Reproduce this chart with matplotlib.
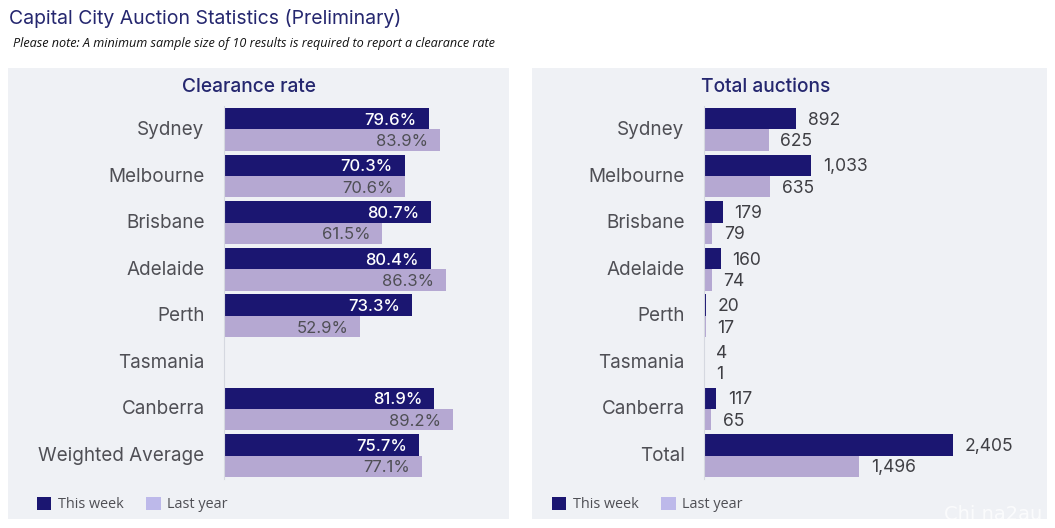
import matplotlib
matplotlib.use("Agg")
import matplotlib.pyplot as plt
from matplotlib.patches import Rectangle, Patch
from matplotlib.transforms import Affine2D

W, H = 1055, 528
cities = ["Sydney", "Melbourne", "Brisbane", "Adelaide", "Perth", "Tasmania", "Canberra", "Weighted Average"]
rate_week = [79.6, 70.3, 80.7, 80.4, 73.3, None, 81.9, 75.7]
rate_year = [83.9, 70.6, 61.5, 86.3, 52.9, None, 89.2, 77.1]
auction_cats = ["Sydney", "Melbourne", "Brisbane", "Adelaide", "Perth", "Tasmania", "Canberra", "Total"]
auction_week = [892, 1033, 179, 160, 20, 4, 117, 2405]
auction_year = [625, 635, 79, 74, 17, 1, 65, 1496]

NAVY = "#1B1671"
LILAC = "#B5A8D2"
LEG_LILAC = "#BDB9EA"
GREY = "#4F4F55"
PANEL = "#EFF1F5"
TITLE = "#25276F"
FONT = "Inter"

fig = plt.figure(figsize=(W / 100, H / 100), dpi=100, facecolor="white")

def frect(x0, y0, x1, y1):
    return [x0 / W, 1 - y1 / H, (x1 - x0) / W, (y1 - y0) / H]

def add_panel(x0, y0, x1, y1, color=PANEL):
    fig.add_artist(Rectangle((x0 / W, 1 - y1 / H), (x1 - x0) / W, (y1 - y0) / H,
                             transform=fig.transFigure, facecolor=color, edgecolor="none", zorder=-5))

def ftext(x, y, s, **kw):
    fig.text(x / W, 1 - y / H, s, **kw)

add_panel(8, 68, 509, 519)
add_panel(532, 68, 1047, 519)

ftext(9, 18.5, "Capital City Auction Statistics (Preliminary)", fontsize=14.0, color=TITLE,
      family=FONT, va="center", ha="left", fontweight="normal")
ftext(13, 43.5, "Please note: A minimum sample size of 10 results is required to report a clearance rate",
      fontsize=9.1, style="italic", color="#111111", family="Open Sans", va="center", ha="left")
ftext(248.5, 87.5, "Clearance rate", fontsize=13.8, color=TITLE, family=FONT, va="center", ha="center", fontweight="medium")
ftext(766, 87.5, "Total auctions", fontsize=13.8, color=TITLE, family=FONT, va="center", ha="center", fontweight="medium")

def make_axes(x0, x1, xmax, cats):
    ax = fig.add_axes(frect(x0 - 1, 106.1, x1 - 1, 478.9), facecolor="none")
    ax.set_ylim(len(cats) - 0.5, -0.5)
    ax.set_xlim(0, xmax)
    for s in ["top", "right", "bottom"]:
        ax.spines[s].set_visible(False)
    ax.spines["left"].set_color("#D5D8E0")
    ax.spines["left"].set_linewidth(0.8)
    ax.set_xticks([])
    ax.set_yticks(range(len(cats)))
    ax.set_yticklabels(cats, fontsize=13.6, color=GREY, family=FONT)
    ax.tick_params(axis="y", length=0, pad=14)
    for lab in ax.get_yticklabels():
        lab.set_transform(lab.get_transform() + Affine2D().translate(0, 1.5))
    return ax

BAR_H = 0.46
OFF = 0.23
LIFT = -1.2

# Clearance rate
ax1 = make_axes(225, 505, 280 / 2.57, cities)
for i, (a, b) in enumerate(zip(rate_week, rate_year)):
    if a is not None:
        ax1.barh(i - OFF, a, height=BAR_H, color=NAVY)
        ax1.annotate(f"{a:.1f}%", (a, i - OFF), xytext=(-8.5, LIFT), textcoords="offset points",
                     ha="right", va="center", color="white", fontsize=12, family=FONT, fontweight="medium")
    if b is not None:
        ax1.barh(i + OFF, b, height=BAR_H, color=LILAC)
        ax1.annotate(f"{b:.1f}%", (b, i + OFF), xytext=(-8.5, LIFT), textcoords="offset points",
                     ha="right", va="center", color=GREY, fontsize=12, family=FONT)

# Total auctions
ax2 = make_axes(705, 1040, 335 / 0.1035, auction_cats)
for i, (a, b) in enumerate(zip(auction_week, auction_year)):
    ax2.barh(i - OFF, a, height=BAR_H, color=NAVY)
    ax2.annotate(f"{a:,}", (a, i - OFF), xytext=(8.5, LIFT), textcoords="offset points",
                 ha="left", va="center", color="#3F3F44", fontsize=12.6, family=FONT)
    ax2.barh(i + OFF, b, height=BAR_H, color=LILAC)
    ax2.annotate(f"{b:,}", (b, i + OFF), xytext=(8.5, LIFT), textcoords="offset points",
                 ha="left", va="center", color="#3F3F44", fontsize=12.6, family=FONT)

# Legends
def add_legend(x):
    handles = [Patch(facecolor=NAVY, label="This week"), Patch(facecolor=LEG_LILAC, label="Last year")]
    fig.legend(handles=handles, loc="center left", bbox_to_anchor=(x / W, 1 - 504.5 / H), ncol=2,
               frameon=False, borderpad=0, borderaxespad=0, handlelength=1.0, handleheight=1.0,
               handletextpad=0.42, columnspacing=1.6,
               prop={"family": "Open Sans", "size": 10.4}, labelcolor=GREY)

add_legend(37)
add_legend(552)

# Faint watermark
ftext(944, 515, "Chi na2au", fontsize=14, color="white", alpha=0.75, family="DejaVu Sans",
      va="center", ha="left")

fig.savefig("out.png", dpi=100, facecolor="white")
